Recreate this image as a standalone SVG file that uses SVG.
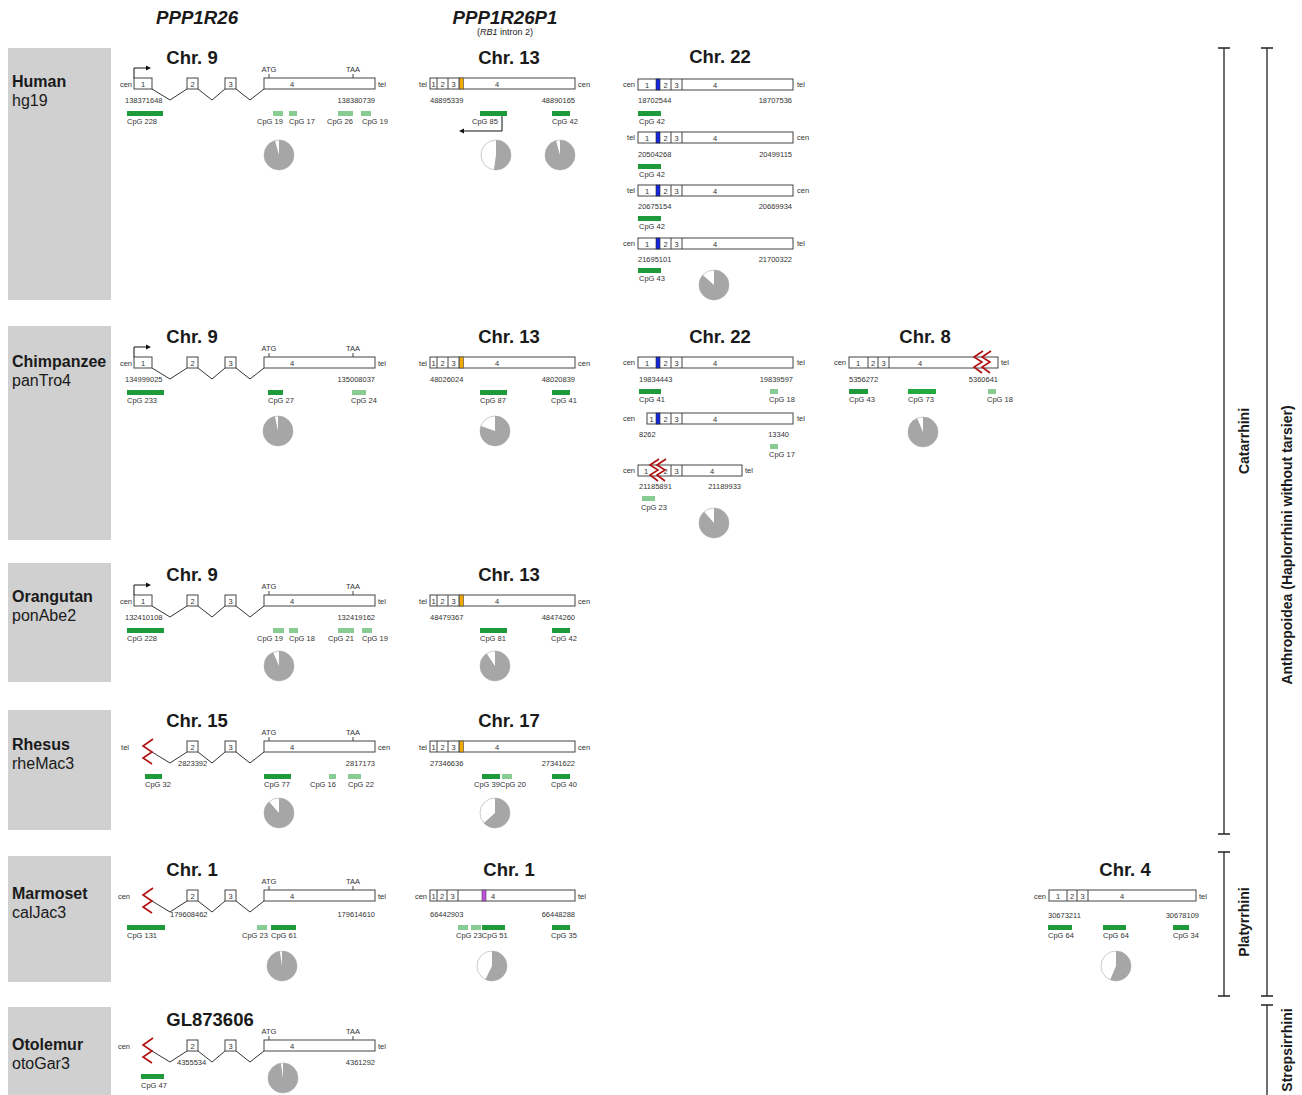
<svg xmlns="http://www.w3.org/2000/svg" width="1302" height="1095" viewBox="0 0 1302 1095">
<style>
text{font-family:"Liberation Sans",Arial,sans-serif;fill:#1a1a1a}
.sp{font-size:16px}
.b{font-weight:bold}
.t{font-size:18.5px;font-weight:bold;text-anchor:middle}
.h{font-size:18.7px;font-weight:bold;font-style:italic;text-anchor:middle}
.s{font-size:7.5px;fill:#333}
.m{text-anchor:middle}
.e{text-anchor:end}
.ex{fill:#fff;stroke:#444;stroke-width:1}
.dv{stroke:#444;stroke-width:1}
.in{fill:none;stroke:#333;stroke-width:1}
.zz{fill:none;stroke:#b01010;stroke-width:1.6}
.d{fill:#1f9a3a}
.d2{fill:#22aa3e}
.l{fill:#88cc94}
.pb{fill:#fff;stroke:#aaa;stroke-width:0.6}
.pie{fill:none;stroke:#a6a6a6;stroke-width:15}
.box{fill:#d0d0d0}
.br{fill:none;stroke:#222;stroke-width:1.3}
.cl{font-size:14px;font-weight:bold;text-anchor:middle}
.ora{fill:#f2a900;stroke:#444;stroke-width:0.6}
.blu{fill:#1428e0;stroke:#222;stroke-width:0.6}
.pur{fill:#c050e0;stroke:#444;stroke-width:0.6}
.ar{fill:none;stroke:#111;stroke-width:1}
</style>
<defs>
<g id="tss"><path class="ar" d="M134,78V68H146"/><polygon points="146,65.5 151,68 146,70.5" fill="#111"/></g>
<g id="exons234">
<path class="in" d="M198,89L212,100L225,89M236,89L250,100L264,89"/>
<rect class="ex" x="187" y="78" width="11" height="11"/>
<rect class="ex" x="225" y="78" width="11" height="11"/>
<rect class="ex" x="264" y="78" width="111" height="11"/>
<text class="s m" x="192.5" y="86.5">2</text>
<text class="s m" x="230.5" y="86.5">3</text>
<text class="s m" x="292" y="86.5">4</text>
<line class="dv" x1="269" y1="74" x2="269" y2="78"/>
<line class="dv" x1="353" y1="74" x2="353" y2="78"/>
<text class="s m" x="269" y="72">ATG</text>
<text class="s m" x="353" y="72">TAA</text>
</g>
<g id="full">
<path class="in" d="M152,89L170,100L187,89"/>
<rect class="ex" x="134" y="78" width="18" height="11"/>
<text class="s m" x="143" y="86.5">1</text>
<use href="#exons234"/>
</g>
<g id="trunc">
<path class="in" d="M152,89L170,100L187,89"/>
<polyline class="zz" points="153,76 143,83 152,89 143,95 152,101"/>
<use href="#exons234"/>
</g>
<g id="p1box">
<rect class="ex" x="430" y="78" width="145" height="11"/>
<line class="dv" x1="437" y1="78" x2="437" y2="89"/>
<line class="dv" x1="448" y1="78" x2="448" y2="89"/>
<line class="dv" x1="459" y1="78" x2="459" y2="89"/>
<rect class="ora" x="459.5" y="78" width="4" height="11"/>
<text class="s m" x="433.5" y="86.5">1</text>
<text class="s m" x="442.5" y="86.5">2</text>
<text class="s m" x="453.5" y="86.5">3</text>
<text class="s m" x="497" y="86.5">4</text>
<text class="s e" x="427" y="87">tel</text>
<text class="s" x="578" y="87">cen</text>
</g>
<g id="c22">
<rect class="ex" x="638" y="0" width="155" height="11"/>
<line class="dv" x1="671" y1="0" x2="671" y2="11"/>
<line class="dv" x1="682" y1="0" x2="682" y2="11"/>
<rect class="blu" x="656" y="0" width="4" height="11"/>
<text class="s m" x="647" y="8.5">1</text>
<text class="s m" x="665.5" y="8.5">2</text>
<text class="s m" x="676.5" y="8.5">3</text>
<text class="s m" x="715" y="8.5">4</text>
</g>
</defs>

<!-- headers -->
<g id="headers">
<text class="h" x="197" y="24">PPP1R26</text>
<text class="h" x="505" y="24">PPP1R26P1</text>
<text x="505" y="35" font-size="9" text-anchor="middle">(<tspan font-style="italic">RB1</tspan> intron 2)</text>
</g>

<!-- species labels -->
<g id="sp-human"><rect class="box" x="8" y="48" width="103" height="252"/><text class="sp b" x="12" y="87">Human</text><text class="sp" x="12" y="106">hg19</text></g>
<g id="sp-chimp"><rect class="box" x="8" y="326" width="103" height="214"/><text class="sp b" x="12" y="367">Chimpanzee</text><text class="sp" x="12" y="386">panTro4</text></g>
<g id="sp-orang"><rect class="box" x="8" y="563" width="103" height="119"/><text class="sp b" x="12" y="602">Orangutan</text><text class="sp" x="12" y="621">ponAbe2</text></g>
<g id="sp-rhesus"><rect class="box" x="8" y="710" width="103" height="120"/><text class="sp b" x="12" y="750">Rhesus</text><text class="sp" x="12" y="769">rheMac3</text></g>
<g id="sp-marmoset"><rect class="box" x="8" y="856" width="103" height="126"/><text class="sp b" x="12" y="899">Marmoset</text><text class="sp" x="12" y="918">calJac3</text></g>
<g id="sp-otolemur"><rect class="box" x="8" y="1007" width="103" height="90"/><text class="sp b" x="12" y="1050">Otolemur</text><text class="sp" x="12" y="1069">otoGar3</text></g>

<!-- HUMAN -->
<g id="human-chr9">
<text class="t" x="192" y="64">Chr. 9</text>
<use href="#full"/>
<text class="s e" x="132" y="87">cen</text><text class="s" x="378" y="87">tel</text>
<text class="s" x="125" y="103">138371648</text><text class="s e" x="375" y="103">138380739</text>
<rect class="d" x="127" y="111" width="36" height="5"/><rect class="l" x="273" y="111" width="10" height="5"/><rect class="l" x="289" y="111" width="8" height="5"/><rect class="l" x="338" y="111" width="15" height="5"/><rect class="l" x="361" y="111" width="10" height="5"/>
<text class="s" x="127" y="124">CpG 228</text><text class="s" x="257" y="124">CpG 19</text><text class="s" x="289" y="124">CpG 17</text><text class="s" x="327" y="124">CpG 26</text><text class="s" x="362" y="124">CpG 19</text>
<circle class="pb" cx="279" cy="155" r="15"/><circle class="pie" cx="279" cy="155" r="7.5" stroke-dasharray="44.77 100" transform="rotate(-90 279 155)"/>
</g>
<g id="human-chr13">
<text class="t" x="509" y="64">Chr. 13</text>
<use href="#p1box"/>
<text class="s" x="430" y="103">48895339</text><text class="s e" x="575" y="103">48890165</text>
<rect class="d" x="480" y="111" width="27" height="5"/><rect class="d" x="552" y="111" width="18" height="5"/>
<text class="s" x="472" y="124">CpG 85</text><text class="s" x="552" y="124">CpG 42</text>
<circle class="pb" cx="496" cy="155" r="15"/><circle class="pie" cx="496" cy="155" r="7.5" stroke-dasharray="24.5 100" transform="rotate(-90 496 155)"/>
<circle class="pb" cx="560" cy="155" r="15"/><circle class="pie" cx="560" cy="155" r="7.5" stroke-dasharray="44.77 100" transform="rotate(-90 560 155)"/>
</g>
<g id="human-chr22">
<text class="t" x="720" y="63">Chr. 22</text>
<use href="#c22" y="79"/>
<text class="s e" x="635" y="87">cen</text><text class="s" x="797" y="87">tel</text>
<text class="s" x="638" y="103">18702544</text><text class="s e" x="792" y="103">18707536</text>
<rect class="d" x="638" y="111" width="23" height="5"/><text class="s" x="639" y="124">CpG 42</text>
<use href="#c22" y="132"/>
<text class="s e" x="635" y="140">tel</text><text class="s" x="797" y="140">cen</text>
<text class="s" x="638" y="157">20504268</text><text class="s e" x="792" y="157">20499115</text>
<rect class="d" x="638" y="164" width="23" height="5"/><text class="s" x="639" y="177">CpG 42</text>
<use href="#c22" y="185"/>
<text class="s e" x="635" y="193">tel</text><text class="s" x="797" y="193">cen</text>
<text class="s" x="638" y="209">20675154</text><text class="s e" x="792" y="209">20669934</text>
<rect class="d" x="638" y="216" width="23" height="5"/><text class="s" x="639" y="229">CpG 42</text>
<use href="#c22" y="238"/>
<text class="s e" x="635" y="246">cen</text><text class="s" x="797" y="246">tel</text>
<text class="s" x="638" y="262">21695101</text><text class="s e" x="792" y="262">21700322</text>
<rect class="d" x="638" y="268" width="23" height="5"/><text class="s" x="639" y="281">CpG 43</text>
<circle class="pb" cx="714" cy="285" r="15"/><circle class="pie" cx="714" cy="285" r="7.5" stroke-dasharray="40.53 100" transform="rotate(-90 714 285)"/>
</g>

<!-- CHIMP -->
<g id="chimp-chr9" transform="translate(0,279)">
<text class="t" x="192" y="64">Chr. 9</text>
<use href="#full"/>
<text class="s e" x="132" y="87">cen</text><text class="s" x="378" y="87">tel</text>
<text class="s" x="125" y="103">134999025</text><text class="s e" x="375" y="103">135008037</text>
<rect class="d" x="127" y="111" width="37" height="5"/><rect class="d" x="268" y="111" width="15" height="5"/><rect class="l" x="352" y="111" width="14" height="5"/>
<text class="s" x="127" y="124">CpG 233</text><text class="s" x="268" y="124">CpG 27</text><text class="s" x="351" y="124">CpG 24</text>
<circle class="pb" cx="278" cy="152" r="15"/><circle class="pie" cx="278" cy="152" r="7.5" stroke-dasharray="45.24 100" transform="rotate(-90 278 152)"/>
</g>
<g id="chimp-chr13" transform="translate(0,279)">
<text class="t" x="509" y="64">Chr. 13</text>
<use href="#p1box"/>
<text class="s" x="430" y="103">48026024</text><text class="s e" x="575" y="103">48020839</text>
<rect class="d" x="480" y="111" width="27" height="5"/><rect class="d" x="552" y="111" width="18" height="5"/>
<text class="s" x="480" y="124">CpG 87</text><text class="s" x="551" y="124">CpG 41</text>
<circle class="pb" cx="495" cy="152" r="15"/><circle class="pie" cx="495" cy="152" r="7.5" stroke-dasharray="37.7 100" transform="rotate(-90 495 152)"/>
</g>
<g id="chimp-chr22">
<text class="t" x="720" y="343">Chr. 22</text>
<use href="#c22" y="357"/>
<text class="s e" x="635" y="365">cen</text><text class="s" x="797" y="365">tel</text>
<text class="s" x="639" y="382">19834443</text><text class="s e" x="793" y="382">19839597</text>
<rect class="d" x="639" y="389" width="22" height="5"/><rect class="l" x="770" y="389" width="8" height="5"/>
<text class="s" x="639" y="402">CpG 41</text><text class="s" x="769" y="402">CpG 18</text>
<rect class="ex" x="647" y="413" width="146" height="11"/>
<line class="dv" x1="671" y1="413" x2="671" y2="424"/><line class="dv" x1="682" y1="413" x2="682" y2="424"/>
<rect class="blu" x="656" y="413" width="4" height="11"/>
<text class="s m" x="651.5" y="421.5">1</text><text class="s m" x="665.5" y="421.5">2</text><text class="s m" x="676.5" y="421.5">3</text><text class="s m" x="715" y="421.5">4</text>
<text class="s e" x="635" y="421">cen</text><text class="s" x="797" y="421">tel</text>
<text class="s" x="639" y="437">8262</text><text class="s e" x="789" y="437">13340</text>
<rect class="l" x="770" y="444" width="8" height="5"/><text class="s" x="769" y="457">CpG 17</text>
<rect class="ex" x="638" y="465" width="104" height="11"/>
<line class="dv" x1="671" y1="465" x2="671" y2="476"/><line class="dv" x1="682" y1="465" x2="682" y2="476"/>
<text class="s m" x="646" y="473.5">1</text><text class="s m" x="665.5" y="473.5">2</text><text class="s m" x="676.5" y="473.5">3</text><text class="s m" x="712" y="473.5">4</text>
<polyline class="zz" points="659,459 650,465 658,470 650,475 658,481"/>
<polyline class="zz" points="666,459 657,465 665,470 657,475 665,481"/>
<text class="s e" x="635" y="473">cen</text><text class="s" x="745" y="473">tel</text>
<text class="s" x="639" y="489">21185891</text><text class="s e" x="741" y="489">21189933</text>
<rect class="l" x="642" y="496" width="13" height="5"/><text class="s" x="641" y="510">CpG 23</text>
<circle class="pb" cx="714" cy="523" r="15"/><circle class="pie" cx="714" cy="523" r="7.5" stroke-dasharray="41.47 100" transform="rotate(-90 714 523)"/>
</g>
<g id="chimp-chr8">
<text class="t" x="925" y="343">Chr. 8</text>
<rect class="ex" x="849" y="357" width="149" height="11"/>
<line class="dv" x1="868" y1="357" x2="868" y2="368"/><line class="dv" x1="878" y1="357" x2="878" y2="368"/><line class="dv" x1="889" y1="357" x2="889" y2="368"/>
<text class="s m" x="858" y="365.5">1</text><text class="s m" x="873" y="365.5">2</text><text class="s m" x="883.5" y="365.5">3</text><text class="s m" x="920" y="365.5">4</text>
<polyline class="zz" points="983,351 974,357 982,362 974,367 982,373"/>
<polyline class="zz" points="991,351 982,357 990,362 982,367 990,373"/>
<text class="s e" x="846" y="365">cen</text><text class="s" x="1001" y="365">tel</text>
<text class="s" x="849" y="382">5356272</text><text class="s e" x="998" y="382">5360641</text>
<rect class="d" x="849" y="389" width="19" height="5"/><rect class="d2" x="908" y="389" width="28" height="5"/><rect class="l" x="988" y="389" width="8" height="5"/>
<text class="s" x="849" y="402">CpG 43</text><text class="s" x="908" y="402">CpG 73</text><text class="s" x="987" y="402">CpG 18</text>
<circle class="pb" cx="923" cy="432" r="15"/><circle class="pie" cx="923" cy="432" r="7.5" stroke-dasharray="43.83 100" transform="rotate(-90 923 432)"/>
</g>

<!-- ORANGUTAN -->
<g id="orang-chr9" transform="translate(0,517)">
<text class="t" x="192" y="64">Chr. 9</text>
<use href="#full"/>
<text class="s e" x="132" y="87">cen</text><text class="s" x="378" y="87">tel</text>
<text class="s" x="125" y="103">132410108</text><text class="s e" x="375" y="103">132419162</text>
<rect class="d" x="127" y="111" width="37" height="5"/><rect class="l" x="273" y="111" width="11" height="5"/><rect class="l" x="289" y="111" width="9" height="5"/><rect class="l" x="338" y="111" width="16" height="5"/><rect class="l" x="362" y="111" width="10" height="5"/>
<text class="s" x="127" y="124">CpG 228</text><text class="s" x="257" y="124">CpG 19</text><text class="s" x="289" y="124">CpG 18</text><text class="s" x="328" y="124">CpG 21</text><text class="s" x="362" y="124">CpG 19</text>
<circle class="pb" cx="279" cy="149" r="15"/><circle class="pie" cx="279" cy="149" r="7.5" stroke-dasharray="43.83 100" transform="rotate(-90 279 149)"/>
</g>
<g id="orang-chr13" transform="translate(0,517)">
<text class="t" x="509" y="64">Chr. 13</text>
<use href="#p1box"/>
<text class="s" x="430" y="103">48479367</text><text class="s e" x="575" y="103">48474260</text>
<rect class="d" x="480" y="111" width="27" height="5"/><rect class="d" x="552" y="111" width="18" height="5"/>
<text class="s" x="480" y="124">CpG 81</text><text class="s" x="551" y="124">CpG 42</text>
<circle class="pb" cx="495" cy="149" r="15"/><circle class="pie" cx="495" cy="149" r="7.5" stroke-dasharray="42.41 100" transform="rotate(-90 495 149)"/>
</g>

<!-- RHESUS -->
<g id="rhesus-chr15" transform="translate(0,663)">
<text class="t" x="197" y="64">Chr. 15</text>
<use href="#trunc"/>
<text class="s e" x="129" y="87">tel</text><text class="s" x="378" y="87">cen</text>
<text class="s" x="178" y="103">2823392</text><text class="s e" x="375" y="103">2817173</text>
<rect class="d" x="145" y="111" width="17" height="5"/><rect class="d" x="264" y="111" width="27" height="5"/><rect class="l" x="329" y="111" width="7" height="5"/><rect class="l" x="348" y="111" width="13" height="5"/>
<text class="s" x="145" y="124">CpG 32</text><text class="s" x="264" y="124">CpG 77</text><text class="s" x="310" y="124">CpG 16</text><text class="s" x="348" y="124">CpG 22</text>
<circle class="pb" cx="279" cy="150" r="15"/><circle class="pie" cx="279" cy="150" r="7.5" stroke-dasharray="41.47 100" transform="rotate(-90 279 150)"/>
</g>
<g id="rhesus-chr17" transform="translate(0,663)">
<text class="t" x="509" y="64">Chr. 17</text>
<use href="#p1box"/>
<text class="s" x="430" y="103">27346636</text><text class="s e" x="575" y="103">27341622</text>
<rect class="d" x="482" y="111" width="18" height="5"/><rect class="l" x="502" y="111" width="10" height="5"/><rect class="d" x="552" y="111" width="18" height="5"/>
<text class="s" x="474" y="124">CpG 39</text><text class="s" x="500" y="124">CpG 20</text><text class="s" x="551" y="124">CpG 40</text>
<circle class="pb" cx="495" cy="150" r="15"/><circle class="pie" cx="495" cy="150" r="7.5" stroke-dasharray="29.69 100" transform="rotate(-90 495 150)"/>
</g>

<!-- MARMOSET -->
<g id="marmoset-chr1" transform="translate(0,812)">
<text class="t" x="192" y="64">Chr. 1</text>
<use href="#trunc"/>
<text class="s e" x="130" y="87">cen</text><text class="s" x="378" y="87">tel</text>
<text class="s" x="170" y="105">179608462</text><text class="s e" x="375" y="105">179614610</text>
<rect class="d" x="127" y="113" width="38" height="5"/><rect class="l" x="257" y="113" width="10" height="5"/><rect class="d" x="271" y="113" width="25" height="5"/>
<text class="s" x="127" y="126">CpG 131</text><text class="s" x="242" y="126">CpG 23</text><text class="s" x="271" y="126">CpG 61</text>
<circle class="pb" cx="282" cy="154" r="15"/><circle class="pie" cx="282" cy="154" r="7.5" stroke-dasharray="45.71 100" transform="rotate(-90 282 154)"/>
</g>
<g id="marmoset-chr1-p1" transform="translate(0,812)">
<text class="t" x="509" y="64">Chr. 1</text>
<rect class="ex" x="430" y="78" width="145" height="11"/>
<line class="dv" x1="437" y1="78" x2="437" y2="89"/><line class="dv" x1="447" y1="78" x2="447" y2="89"/><line class="dv" x1="458" y1="78" x2="458" y2="89"/>
<rect class="pur" x="482" y="78" width="4" height="11"/>
<text class="s m" x="433.5" y="86.5">1</text><text class="s m" x="442" y="86.5">2</text><text class="s m" x="452.5" y="86.5">3</text><text class="s m" x="493" y="86.5">4</text>
<text class="s e" x="427" y="87">cen</text><text class="s" x="578" y="87">tel</text>
<text class="s" x="430" y="105">66442903</text><text class="s e" x="575" y="105">66448288</text>
<rect class="l" x="458" y="113" width="10" height="5"/><rect class="l" x="471" y="113" width="10" height="5"/><rect class="d" x="482" y="113" width="23" height="5"/><rect class="d" x="552" y="113" width="18" height="5"/>
<text class="s" x="456" y="126">CpG 23CpG 51</text><text class="s" x="551" y="126">CpG 35</text>
<circle class="pb" cx="492" cy="154" r="15"/><circle class="pie" cx="492" cy="154" r="7.5" stroke-dasharray="26.86 100" transform="rotate(-90 492 154)"/>
</g>
<g id="marmoset-chr4" transform="translate(0,812)">
<text class="t" x="1125" y="64">Chr. 4</text>
<rect class="ex" x="1049" y="78" width="147" height="11"/>
<line class="dv" x1="1067" y1="78" x2="1067" y2="89"/><line class="dv" x1="1077" y1="78" x2="1077" y2="89"/><line class="dv" x1="1088" y1="78" x2="1088" y2="89"/>
<text class="s m" x="1058" y="86.5">1</text><text class="s m" x="1072" y="86.5">2</text><text class="s m" x="1082.5" y="86.5">3</text><text class="s m" x="1122" y="86.5">4</text>
<text class="s e" x="1046" y="87">cen</text><text class="s" x="1199" y="87">tel</text>
<text class="s" x="1048" y="106">30673211</text><text class="s e" x="1199" y="106">30678109</text>
<rect class="d" x="1048" y="113" width="24" height="5"/><rect class="d" x="1103" y="113" width="23" height="5"/><rect class="d" x="1173" y="113" width="16" height="5"/>
<text class="s" x="1048" y="126">CpG 64</text><text class="s" x="1103" y="126">CpG 64</text><text class="s" x="1173" y="126">CpG 34</text>
<circle class="pb" cx="1116" cy="154" r="15"/><circle class="pie" cx="1116" cy="154" r="7.5" stroke-dasharray="26.39 100" transform="rotate(-90 1116 154)"/>
</g>

<!-- OTOLEMUR -->
<g id="otolemur-gl" transform="translate(0,962)">
<text class="t" x="210" y="64">GL873606</text>
<use href="#trunc"/>
<text class="s e" x="130" y="87">cen</text><text class="s" x="378" y="87">tel</text>
<text class="s" x="177" y="103">4355534</text><text class="s e" x="375" y="103">4361292</text>
<rect class="d" x="141" y="112" width="23" height="5"/><text class="s" x="141" y="126">CpG 47</text>
<circle class="pb" cx="283" cy="116" r="15"/><circle class="pie" cx="283" cy="116" r="7.5" stroke-dasharray="45.71 100" transform="rotate(-90 283 116)"/>
</g>

<!-- connectors: transcription start arrows -->
<g id="connectors">
<use href="#tss"/>
<use href="#tss" y="279"/>
<use href="#tss" y="517"/>
<path class="ar" d="M502,116V131H464"/><polygon points="464,128.5 459,131 464,133.5" fill="#111"/>
</g>

<!-- taxonomy brackets -->
<g id="clade-catarrhini"><path class="br" d="M1218,48H1230M1224,48V834M1218,834H1230"/><text class="cl" transform="translate(1249,441) rotate(-90)">Catarrhini</text></g>
<g id="clade-platyrrhini"><path class="br" d="M1218,852H1230M1224,852V996M1218,996H1230"/><text class="cl" transform="translate(1249,922) rotate(-90)">Platyrrhini</text></g>
<g id="clade-anthropoidea"><path class="br" d="M1261,48H1273M1267,48V996M1261,996H1273"/><text class="cl" transform="translate(1292,545) rotate(-90)">Anthropoidea (Haplorrhini without tarsier)</text></g>
<g id="clade-strepsirrhini"><path class="br" d="M1261,1005H1273M1267,1005V1100"/><text class="cl" transform="translate(1292,1050) rotate(-90)">Strepsirrhini</text></g>
</svg>
